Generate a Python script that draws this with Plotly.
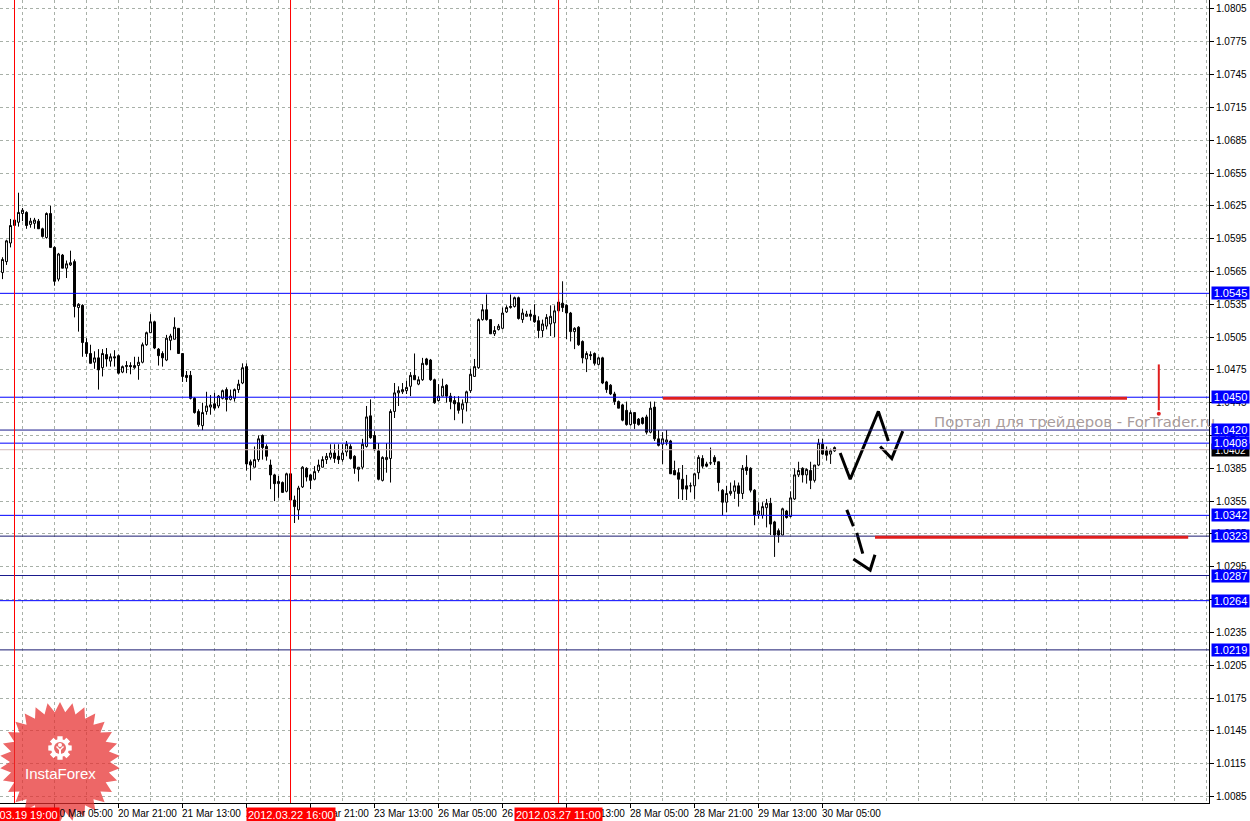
import numpy as np
import pandas as pd
import plotly.graph_objects as go

# ---------------- data (H1 chart, prices in pips = price*10^4) ----------------
bar_times = pd.date_range("2012-03-19 16:00", "2012-03-30 08:00", freq="h")
bar_times = bar_times[bar_times.dayofweek < 5]

open_pips = [
    10564, 10574, 10591, 10607, 10610, 10618, 10619, 10608, 10609, 10611,
    10604, 10596, 10618, 10587, 10558, 10580, 10568, 10571, 10574, 10532,
    10534, 10500, 10490, 10482, 10486, 10477, 10489, 10483, 10487, 10488,
    10473, 10478, 10479, 10477, 10479, 10482, 10498, 10509, 10519, 10494,
    10490, 10484, 10502, 10503, 10513, 10490, 10470, 10470, 10449, 10437,
    10424, 10437, 10441, 10444, 10442, 10449, 10457, 10448, 10449, 10457,
    10463, 10478, 10391, 10386, 10393, 10415, 10405, 10388, 10379, 10371,
    10372, 10364, 10380, 10356, 10347, 10368, 10385, 10379, 10375, 10383,
    10386, 10393, 10395, 10399, 10396, 10393, 10400, 10405, 10396, 10384,
    10386, 10405, 10433, 10415, 10401, 10374, 10393, 10394, 10437, 10454,
    10455, 10456, 10460, 10470, 10462, 10466, 10485, 10484, 10466, 10447,
    10451, 10461, 10451, 10447, 10445, 10439, 10445, 10456, 10469, 10477,
    10521, 10530, 10521, 10508, 10512, 10513, 10528, 10532, 10533, 10541,
    10521, 10524, 10526, 10525, 10520, 10511, 10515, 10517, 10518, 10529,
    10536, 10534, 10527, 10510, 10514, 10501, 10485, 10489, 10490, 10480,
    10486, 10464, 10461, 10453, 10446, 10443, 10438, 10425, 10436, 10430,
    10431, 10432, 10418, 10441, 10412, 10407, 10409, 10410, 10383, 10381,
    10375, 10369, 10369, 10369, 10381, 10394, 10389, 10390, 10395, 10391,
    10365, 10354, 10362, 10364, 10369, 10362, 10386, 10385, 10365, 10343,
    10342, 10349, 10353, 10336, 10328, 10324, 10346, 10341, 10357, 10379,
    10385, 10379, 10383, 10374, 10388, 10407, 10401, 10398, 10401,
]
high_pips = [
    10578, 10594, 10613, 10615, 10637, 10623, 10620, 10614, 10614, 10613,
    10605, 10619, 10625, 10588, 10582, 10581, 10575, 10584, 10576, 10536,
    10535, 10504, 10498, 10492, 10494, 10494, 10495, 10490, 10493, 10489,
    10479, 10483, 10482, 10487, 10487, 10500, 10510, 10526, 10520, 10495,
    10492, 10507, 10508, 10523, 10513, 10490, 10474, 10474, 10450, 10439,
    10445, 10455, 10452, 10454, 10452, 10457, 10459, 10457, 10458, 10466,
    10481, 10481, 10393, 10405, 10415, 10416, 10407, 10393, 10380, 10378,
    10373, 10381, 10381, 10360, 10369, 10387, 10386, 10380, 10387, 10393,
    10396, 10399, 10407, 10407, 10407, 10407, 10410, 10407, 10397, 10386,
    10412, 10442, 10448, 10419, 10408, 10396, 10408, 10439, 10463, 10460,
    10463, 10465, 10473, 10490, 10469, 10486, 10486, 10485, 10467, 10462,
    10467, 10462, 10454, 10451, 10451, 10448, 10456, 10476, 10485, 10522,
    10535, 10544, 10521, 10515, 10517, 10532, 10534, 10544, 10542, 10542,
    10531, 10529, 10530, 10535, 10524, 10521, 10526, 10534, 10534, 10540,
    10556, 10535, 10528, 10514, 10515, 10502, 10492, 10492, 10491, 10487,
    10487, 10465, 10462, 10455, 10447, 10444, 10446, 10438, 10436, 10431,
    10432, 10434, 10446, 10446, 10420, 10418, 10420, 10411, 10392, 10385,
    10388, 10379, 10372, 10381, 10397, 10397, 10391, 10404, 10397, 10391,
    10366, 10369, 10372, 10374, 10372, 10388, 10397, 10386, 10366, 10354,
    10354, 10357, 10358, 10337, 10330, 10349, 10347, 10364, 10385, 10391,
    10386, 10385, 10391, 10388, 10412, 10412, 10405, 10403, 10405,
]
low_pips = [
    10558, 10571, 10587, 10605, 10606, 10611, 10604, 10605, 10604, 10604,
    10596, 10595, 10587, 10552, 10556, 10568, 10559, 10570, 10523, 10510,
    10487, 10487, 10481, 10476, 10457, 10469, 10478, 10478, 10478, 10471,
    10472, 10472, 10471, 10476, 10466, 10481, 10497, 10509, 10494, 10479,
    10478, 10483, 10493, 10503, 10490, 10464, 10464, 10448, 10435, 10423,
    10420, 10434, 10434, 10438, 10440, 10448, 10437, 10447, 10446, 10454,
    10462, 10383, 10374, 10386, 10391, 10393, 10392, 10366, 10355, 10358,
    10363, 10363, 10356, 10335, 10338, 10367, 10373, 10366, 10374, 10381,
    10386, 10389, 10393, 10390, 10389, 10391, 10396, 10393, 10380, 10373,
    10384, 10404, 10412, 10401, 10374, 10373, 10381, 10372, 10431, 10442,
    10453, 10453, 10451, 10466, 10461, 10465, 10479, 10465, 10444, 10446,
    10451, 10445, 10439, 10429, 10435, 10426, 10437, 10454, 10469, 10476,
    10520, 10520, 10508, 10506, 10511, 10512, 10527, 10531, 10532, 10521,
    10518, 10524, 10520, 10518, 10504, 10505, 10512, 10506, 10505, 10527,
    10528, 10503, 10501, 10494, 10497, 10481, 10473, 10484, 10479, 10479,
    10462, 10454, 10452, 10443, 10440, 10428, 10424, 10424, 10421, 10424,
    10425, 10416, 10417, 10410, 10405, 10389, 10406, 10380, 10379, 10357,
    10356, 10356, 10363, 10357, 10375, 10385, 10386, 10388, 10388, 10364,
    10342, 10345, 10360, 10357, 10350, 10357, 10379, 10363, 10333, 10339,
    10339, 10331, 10324, 10304, 10317, 10324, 10339, 10340, 10356, 10377,
    10372, 10371, 10366, 10372, 10387, 10397, 10392, 10389, 10400,
]
close_pips = [
    10576, 10593, 10607, 10612, 10619, 10621, 10607, 10611, 10612, 10604,
    10597, 10618, 10587, 10556, 10581, 10568, 10572, 10573, 10533, 10535,
    10500, 10490, 10481, 10486, 10475, 10490, 10485, 10487, 10486, 10472,
    10478, 10479, 10478, 10479, 10482, 10498, 10509, 10519, 10495, 10488,
    10486, 10504, 10506, 10514, 10490, 10469, 10468, 10449, 10436, 10425,
    10436, 10442, 10443, 10440, 10451, 10456, 10448, 10451, 10457, 10462,
    10477, 10389, 10388, 10393, 10412, 10404, 10396, 10379, 10371, 10373,
    10363, 10380, 10356, 10350, 10367, 10386, 10377, 10374, 10382, 10388,
    10393, 10396, 10399, 10394, 10393, 10399, 10407, 10394, 10385, 10386,
    10407, 10432, 10413, 10402, 10375, 10395, 10395, 10437, 10454, 10456,
    10457, 10459, 10470, 10466, 10466, 10481, 10480, 10466, 10445, 10451,
    10460, 10451, 10446, 10444, 10438, 10444, 10455, 10471, 10478, 10521,
    10530, 10521, 10508, 10511, 10515, 10527, 10532, 10533, 10541, 10522,
    10527, 10526, 10524, 10519, 10511, 10517, 10523, 10524, 10529, 10537,
    10532, 10527, 10510, 10513, 10498, 10486, 10490, 10488, 10481, 10486,
    10463, 10457, 10453, 10446, 10440, 10429, 10425, 10436, 10426, 10425,
    10426, 10418, 10440, 10412, 10406, 10412, 10411, 10380, 10379, 10375,
    10366, 10366, 10369, 10380, 10395, 10387, 10387, 10390, 10391, 10372,
    10354, 10362, 10364, 10369, 10362, 10385, 10383, 10365, 10342, 10346,
    10350, 10353, 10334, 10324, 10324, 10348, 10340, 10358, 10379, 10383,
    10379, 10384, 10374, 10388, 10408, 10398, 10397, 10401, 10404,
]

# horizontal levels and their colours
level_prices = [1.0545, 1.0450, 1.0420, 1.0408, 1.0342, 1.0323, 1.0287, 1.0264, 1.0219]
level_line_colors = ["#0000FF", "#0000FF", "#1A1A8C", "#0000FF", "#0000FF",
                     "#1A1A70", "#1A1A8C", "#0000FF", "#1A1A70"]
bid_price = 1.0402

# y axis ticks
y_ticks = [1.0085, 1.0115, 1.0145, 1.0175, 1.0205, 1.0235, 1.0265, 1.0295, 1.0325,
           1.0355, 1.0385, 1.0415, 1.0445, 1.0475, 1.0505, 1.0535, 1.0565, 1.0595,
           1.0625, 1.0655, 1.0685, 1.0715, 1.0745, 1.0775, 1.0805]

# x axis time labels
label_times = ["2012-03-20 05:00", "2012-03-20 21:00", "2012-03-21 13:00", "2012-03-22 05:00",
               "2012-03-22 21:00", "2012-03-23 13:00", "2012-03-26 05:00", "2012-03-26 21:00",
               "2012-03-27 13:00", "2012-03-28 05:00", "2012-03-28 21:00", "2012-03-29 13:00",
               "2012-03-30 05:00"]

# vertical red lines
vline_times = ["2012-03-19 19:00", "2012-03-22 16:00", "2012-03-27 11:00"]
vline_labels = ["2012.03.19 19:00", "2012.03.22 16:00", "2012.03.27 11:00"]

# hand-drawn forecast (in bar units beyond the last bar, prices)
zig_a_bars = [209.4, 211.9, 218.95, 221.45]
zig_a_prices = [1.0399, 1.0375, 1.0437, 1.0410]
zig_b_bars = [219.4, 222.3, 225.05]
zig_b_prices = [1.0405, 1.0394, 1.0419]
down_segments = [
    ([211.05, 212.7], [1.0347, 1.0332]),
    ([213.55, 215.05], [1.0326, 1.0307]),
    ([212.7, 216.9, 218.1], [1.0302, 1.0292, 1.0306]),
]
target_up = ([165.1, 281.1], 1.0449)
target_down = ([218.1, 296.4], 1.0322)
marker_bar = 289.05
marker_prices = [1.0480, 1.0438]
marker_dot = 1.0435

# ---------------- figure ----------------
n = len(bar_times)
bars = list(range(n))
to_price = lambda lst: [v / 10000 for v in lst]

PLOT_W, PLOT_H = 1209, 803
FONT = "Liberation Sans"

fig = go.Figure()
fig.add_trace(go.Candlestick(
    x=bars, open=to_price(open_pips), high=to_price(high_pips),
    low=to_price(low_pips), close=to_price(close_pips),
    increasing=dict(line=dict(color="black", width=1), fillcolor="white"),
    decreasing=dict(line=dict(color="black", width=1), fillcolor="black"),
    whiskerwidth=0, hoverinfo="skip", showlegend=False,
))

for bx, py in [(zig_a_bars, zig_a_prices), (zig_b_bars, zig_b_prices)] + down_segments:
    fig.add_trace(go.Scatter(x=bx, y=py, mode="lines",
                             line=dict(color="black", width=3),
                             hoverinfo="skip", showlegend=False))

fig.add_trace(go.Scatter(x=[marker_bar], y=[marker_dot], mode="markers",
                         marker=dict(color="#E01E1E", size=4),
                         hoverinfo="skip", showlegend=False))

shapes = []
shapes.append(dict(type="line", xref="paper", x0=0, x1=1, yref="y", y0=bid_price, y1=bid_price,
                   line=dict(color="#D2B8B8", width=1), layer="above"))
for p, c in zip(level_prices, level_line_colors):
    shapes.append(dict(type="line", xref="paper", x0=0, x1=1, yref="y", y0=p, y1=p,
                       line=dict(color=c, width=1), layer="above"))
vline_idx = [bar_times.get_loc(pd.Timestamp(t)) for t in vline_times]
for i in vline_idx:
    shapes.append(dict(type="line", xref="x", x0=i, x1=i, yref="paper", y0=0, y1=1,
                       line=dict(color="#FF0000", width=1), layer="above"))
for (bx, py) in [target_up, target_down]:
    shapes.append(dict(type="line", xref="x", x0=bx[0], x1=bx[1], yref="y", y0=py, y1=py,
                       line=dict(color="#E01E1E", width=3), layer="above"))
shapes.append(dict(type="line", xref="x", x0=marker_bar, x1=marker_bar, yref="y",
                   y0=marker_prices[0], y1=marker_prices[1],
                   line=dict(color="#E01E1E", width=2), layer="above"))

# ---- InstaForex logo (decoration) in pixel -> paper coordinates ----
def pp(x, y):
    return x / PLOT_W, 1 - y / PLOT_H

def poly_path(pts):
    s = ""
    for k, (x, y) in enumerate(pts):
        px_, py_ = pp(x, y)
        s += ("M" if k == 0 else "L") + f"{px_:.5f},{py_:.5f} "
    return s + "Z"

cx, cy = 60, 762
star_pts = []
npts = 30
for k in range(npts * 2):
    ang = np.pi * k / npts - np.pi / 2
    r = 60 if k % 2 == 0 else 50
    star_pts.append((cx + r * np.cos(ang), cy + r * np.sin(ang)))
shapes.append(dict(type="path", xref="paper", yref="paper", path=poly_path(star_pts),
                   fillcolor="rgba(230,45,45,0.72)", line=dict(width=0), layer="above"))
gx, gy = 60, 748
gear_pts = []
for i in range(8):
    base = i * np.pi / 4
    for da, r in [(-0.22, 12), (0.22, 12), (0.30, 9), (np.pi / 4 - 0.30, 9)]:
        a = base + da
        gear_pts.append((gx + r * np.cos(a), gy + r * np.sin(a)))
shapes.append(dict(type="path", xref="paper", yref="paper", path=poly_path(gear_pts),
                   fillcolor="white", line=dict(width=0), layer="above"))
x0, y0 = pp(gx - 6, gy - 6); x1, y1 = pp(gx + 6, gy + 6)
shapes.append(dict(type="circle", xref="paper", yref="paper", x0=x0, y0=y0, x1=x1, y1=y1,
                   fillcolor="#E86A6A", line=dict(width=0), layer="above"))
x0, y0 = pp(gx - 2, gy - 5); x1, y1 = pp(gx + 2, gy - 1)
shapes.append(dict(type="circle", xref="paper", yref="paper", x0=x0, y0=y0, x1=x1, y1=y1,
                   fillcolor="white", line=dict(width=0), layer="above"))
shapes.append(dict(type="path", xref="paper", yref="paper",
                   path=poly_path([(gx - 4, gy - 1), (gx - 1, gy + 2), (gx - 1, gy + 9),
                                   (gx + 1, gy + 9), (gx + 1, gy + 2), (gx + 4, gy - 1),
                                   (gx + 3, gy - 2), (gx, gy + 1), (gx - 3, gy - 2)]),
                   fillcolor="white", line=dict(width=0), layer="above"))

annotations = []
annotations.append(dict(x=232.3, y=1.0428, xref="x", yref="y", xanchor="left", yanchor="middle",
                        text="Портал для трейдеров - ForTrader.ru", showarrow=False,
                        font=dict(family="DejaVu Sans", size=14.8, color="#A89C9C")))
label_idx = [bar_times.get_loc(pd.Timestamp(t)) for t in label_times]
for t, i in zip(label_times, label_idx):
    annotations.append(dict(x=i, y=0, xref="x", yref="paper", xanchor="left", yanchor="top",
                            yshift=-3, xshift=-3, text=pd.Timestamp(t).strftime("%d %b %H:%M"),
                            showarrow=False, font=dict(family=FONT, size=10, color="black")))
for i, lab in zip(vline_idx, vline_labels):
    annotations.append(dict(x=i, y=0, xref="x", yref="paper", xanchor="center", yanchor="top",
                            yshift=-4, text=lab, showarrow=False, bgcolor="#FF0000",
                            borderpad=1, font=dict(family=FONT, size=11, color="white")))
annotations.append(dict(x=1, y=bid_price, xref="paper", yref="y", xanchor="left", yanchor="middle",
                        xshift=2, text=f"{bid_price:.4f}", showarrow=False, bgcolor="black",
                        width=37, height=12, borderpad=0,
                        font=dict(family=FONT, size=10, color="white")))
for p in level_prices:
    annotations.append(dict(x=1, y=p, xref="paper", yref="y", xanchor="left", yanchor="middle",
                            xshift=2, text=f"{p:.4f}", showarrow=False, bgcolor="#0000FF",
                            width=37, height=12, borderpad=0,
                            font=dict(family=FONT, size=11, color="white")))
lx, ly = pp(60, 773)
annotations.append(dict(x=lx, y=ly, xref="paper", yref="paper", xanchor="center", yanchor="middle",
                        text="InstaForex", showarrow=False,
                        font=dict(family=FONT, size=15, color="white")))

grid_all = list(range(5, 302, 8))
minor_grid = [g for g in grid_all if g not in label_idx]

fig.update_layout(
    width=1250, height=821,
    margin=dict(l=0, r=41, t=0, b=18, autoexpand=False),
    paper_bgcolor="white", plot_bgcolor="white",
    font=dict(family=FONT, size=10, color="black"),
    hovermode=False, showlegend=False,
    shapes=shapes, annotations=annotations,
    xaxis=dict(
        range=[-0.625, 301.6], rangeslider=dict(visible=False), fixedrange=True,
        tickmode="array", tickvals=label_idx, showticklabels=False,
        ticks="outside", ticklen=4, tickcolor="black",
        showgrid=True, gridcolor="#A8B0A8", griddash="3px,3px", gridwidth=1,
        minor=dict(tickmode="array", tickvals=minor_grid, showgrid=True,
                   gridcolor="#A8B0A8", griddash="3px,3px", gridwidth=1, ticks=""),
        showline=True, linecolor="black", linewidth=1, zeroline=False,
    ),
    yaxis=dict(
        side="right", range=[1.0079, 1.08132], fixedrange=True,
        tickmode="array", tickvals=y_ticks, ticktext=[f"{v:.4f}" for v in y_ticks],
        ticks="outside", ticklen=4, tickcolor="black",
        tickfont=dict(family=FONT, size=10, color="black"),
        showgrid=True, gridcolor="#A8B0A8", griddash="3px,3px", gridwidth=1,
        showline=True, linecolor="black", linewidth=1, zeroline=False,
    ),
)

fig.write_html("out.html", config={"displayModeBar": False},
               post_script="document.body.style.margin='0';document.body.style.padding='0';"
                           "document.body.style.overflow='hidden';")
